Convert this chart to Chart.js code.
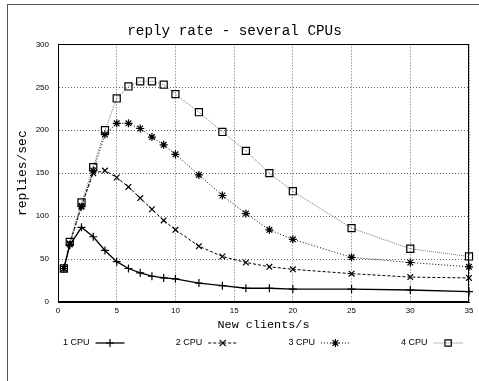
<!DOCTYPE html>
<html>
<head>
<meta charset="utf-8">
<script src="https://cdn.jsdelivr.net/npm/chart.js@4/dist/chart.umd.min.js"></script>
<style>
html,body{margin:0;padding:0;background:#fff;}
#wrap{position:relative;width:479px;height:381px;}
</style>
</head>
<body>
<div id="wrap"><canvas id="c" width="479" height="381"></canvas></div>
<script>
const titleText = 'reply rate - several CPUs';
const xTitle = 'New clients/s';
const yTitle = 'replies/sec';
const seriesLabels = ['1 CPU', '2 CPU', '3 CPU', '4 CPU'];
const xValues = [0.5, 1, 2, 3, 4, 5, 6, 7, 8, 9, 10, 12, 14, 16, 18, 20, 25, 30, 35];
const cpu1 = [39, 66, 87, 76, 60, 47, 39, 34, 30, 28, 27, 22, 19, 16, 16, 15, 15, 14, 12];
const cpu2 = [39, 68, 112, 150, 153, 145, 134, 121, 108, 95, 84, 65, 53, 46, 41, 38, 33, 29, 28];
const cpu3 = [39, 67, 111, 153, 195, 208, 208, 202, 192, 183, 172, 148, 124, 103, 84, 73, 52, 46, 41];
const cpu4 = [39, 70, 116, 157, 200, 237, 251, 257, 257, 253, 242, 221, 198, 176, 150, 129, 86, 62, 53];
const xTicks = [0, 5, 10, 15, 20, 25, 30, 35];
const yTicks = [0, 50, 100, 150, 200, 250, 300];

const toPts = arr => xValues.map((x, i) => ({x: x, y: arr[i]}));

const styles = [
  {color: '#000', dash: [], point: 'cross', r: 4, lw: 1.3},
  {color: '#000', dash: [3, 2], point: 'crossRot', r: 4, lw: 1},
  {color: '#000', dash: [1, 2], point: 'star', r: 4, lw: 1},
  {color: '#777', dash: [1, 1], point: 'rect', r: 5, lw: 1}
];
const seriesData = [cpu1, cpu2, cpu3, cpu4];

const datasets = seriesData.map((arr, i) => ({
  label: seriesLabels[i],
  data: toPts(arr),
  borderColor: styles[i].color,
  borderWidth: styles[i].lw,
  borderDash: styles[i].dash,
  pointStyle: styles[i].point,
  pointRadius: styles[i].r,
  pointBorderColor: '#000',
  pointBackgroundColor: 'rgba(0,0,0,0)',
  pointBorderWidth: 1.2,
  tension: 0,
  fill: false,
  clip: false
}));

function drawMarker(ctx, style, x, y, r) {
  ctx.beginPath();
  if (style === 'cross' || style === 'star') {
    ctx.moveTo(x - r, y); ctx.lineTo(x + r, y);
    ctx.moveTo(x, y - r); ctx.lineTo(x, y + r);
  }
  if (style === 'crossRot' || style === 'star') {
    const d = r * Math.SQRT1_2 * (style === 'star' ? 1 : 1.1);
    ctx.moveTo(x - d, y - d); ctx.lineTo(x + d, y + d);
    ctx.moveTo(x - d, y + d); ctx.lineTo(x + d, y - d);
  }
  if (style === 'rect') {
    const d = r * Math.SQRT1_2;
    ctx.rect(x - d, y - d, 2 * d, 2 * d);
  }
  ctx.stroke();
}

const framePlugin = {
  id: 'frame',
  beforeDraw(chart) {
    const ctx = chart.ctx;
    ctx.save();
    ctx.fillStyle = '#fff';
    ctx.fillRect(0, 0, chart.width, chart.height);
    ctx.strokeStyle = '#555';
    ctx.lineWidth = 1;
    ctx.strokeRect(7.5, 4.5, 700, 700);
    ctx.restore();
  },
  beforeDatasetsDraw(chart) {
    const a = chart.chartArea;
    const ctx = chart.ctx;
    ctx.save();
    ctx.strokeStyle = '#000';
    ctx.lineWidth = 1;
    ctx.strokeRect(Math.round(a.left) + 0.5, Math.round(a.top) + 0.5,
      Math.round(a.right - a.left) - 1, Math.round(a.bottom - a.top) - 1);
    ctx.restore();
  }
};

const legendPlugin = {
  id: 'gpLegend',
  afterDraw(chart) {
    const ctx = chart.ctx;
    const y = 343;
    const startX = 63;
    const colW = 112.7;
    ctx.save();
    ctx.font = '9px "Liberation Sans", Arial, sans-serif';
    ctx.textBaseline = 'middle';
    ctx.textAlign = 'left';
    chart.data.datasets.forEach((ds, i) => {
      const tx = startX + i * colW;
      ctx.fillStyle = '#000';
      ctx.fillText(ds.label, tx, y);
      const w = ctx.measureText(ds.label).width;
      const sx = tx + w + 6;
      const ex = sx + 29;
      ctx.strokeStyle = ds.borderColor;
      ctx.lineWidth = ds.borderWidth;
      ctx.setLineDash(ds.borderDash);
      ctx.beginPath();
      ctx.moveTo(sx, y); ctx.lineTo(ex, y);
      ctx.stroke();
      ctx.setLineDash([]);
      ctx.strokeStyle = '#000';
      ctx.lineWidth = 1.2;
      drawMarker(ctx, ds.pointStyle, (sx + ex) / 2, y, ds.pointStyle === 'rect' ? 4.5 : ds.pointRadius);
    });
    ctx.restore();
  }
};

new Chart(document.getElementById('c'), {
  type: 'line',
  data: {datasets: datasets},
  plugins: [framePlugin, legendPlugin],
  options: {
    responsive: false,
    animation: false,
    devicePixelRatio: 1,
    layout: {padding: {left: 0, right: 10, top: 0, bottom: 49}},
    plugins: {
      legend: {display: false},
      tooltip: {enabled: false},
      title: {
        display: true,
        text: titleText,
        color: '#000',
        font: {family: '"Liberation Mono", "Courier New", monospace', size: 14.3, weight: 'normal'},
        padding: {top: 23, bottom: 4.2}
      }
    },
    scales: {
      x: {
        type: 'linear',
        min: 0, max: 35,
        afterBuildTicks(scale) { scale.ticks = xTicks.map(v => ({value: v})); },
        afterFit(scale) { scale.height = 30; },
        ticks: {
          color: '#000', padding: 4,
          font: {family: '"Liberation Sans", Arial, sans-serif', size: 8},
          maxRotation: 0
        },
        grid: {color: '#666', lineWidth: 1, drawTicks: false},
        border: {display: true, color: '#000', width: 1, dash: [1, 2]},
        title: {
          display: true, text: xTitle, color: '#000',
          font: {family: '"Liberation Mono", "Courier New", monospace', size: 11.8},
          padding: {top: 0, bottom: 0}
        }
      },
      y: {
        type: 'linear',
        min: 0, max: 300,
        afterBuildTicks(scale) { scale.ticks = yTicks.map(v => ({value: v})); },
        afterFit(scale) { scale.width = 58; },
        ticks: {
          color: '#000', padding: 9,
          font: {family: '"Liberation Sans", Arial, sans-serif', size: 8}
        },
        grid: {color: '#666', lineWidth: 1, drawTicks: false},
        border: {display: true, color: '#000', width: 1, dash: [1, 2]},
        title: {
          display: true, text: yTitle, color: '#000',
          font: {family: '"Liberation Mono", "Courier New", monospace', size: 13},
          padding: {top: 15, bottom: 0}
        }
      }
    }
  }
});
</script>
</body>
</html>
